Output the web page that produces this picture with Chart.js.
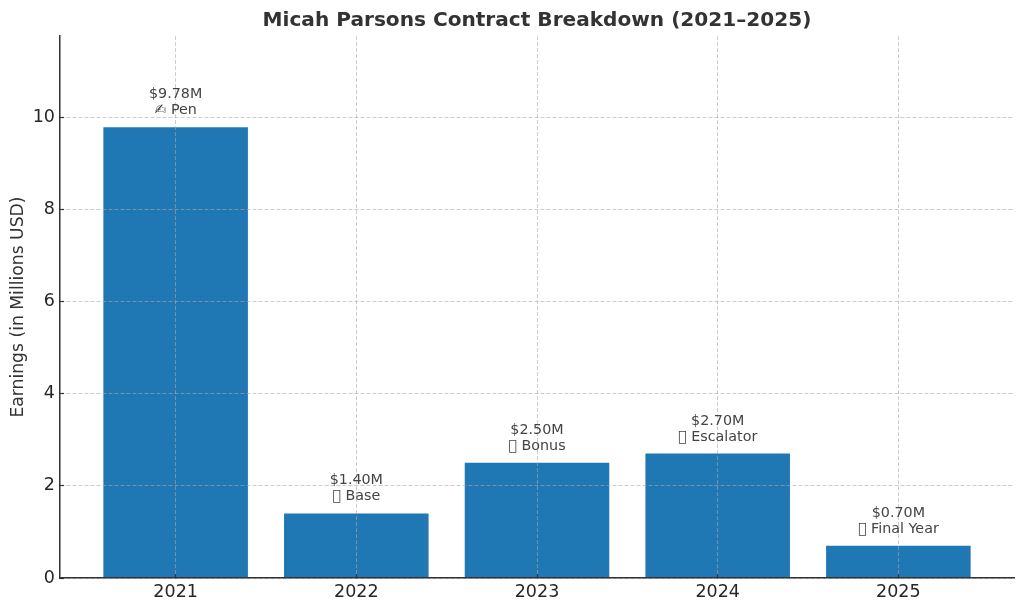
<!DOCTYPE html>
<html>
<head>
<meta charset="utf-8">
<style>html,body{margin:0;padding:0;background:#fff}canvas{display:block}</style>
<script src="https://cdn.jsdelivr.net/npm/chart.js@4"></script>
</head>
<body>
<canvas id="c" width="1024" height="611"></canvas>
<script>
const years = ["2021","2022","2023","2024","2025"];
const earnings = [9.78,1.40,2.50,2.70,0.70];
const amountLabels = ["$9.78M","$1.40M","$2.50M","$2.70M","$0.70M"];
const noteLabels = ["✍ Pen","\uE000 Base","\uE000 Bonus","\uE000 Escalator","\uE000 Final Year"];
const FONT = '"DejaVu Sans"';
const barLabels = {
  id:'barLabels',
  afterDraw(chart){
    const {ctx} = chart;
    const meta = chart.getDatasetMeta(0);
    ctx.save();
    ctx.fillStyle = '#444';
    ctx.font = '14.3px '+FONT;
    ctx.textAlign = 'center';
    ctx.textBaseline = 'alphabetic';
    meta.data.forEach((bar,i)=>{
      ctx.fillText(amountLabels[i], bar.x, bar.y-29);
      ctx.fillText(noteLabels[i], bar.x, bar.y-13);
    });
    ctx.restore();
  }
};
new Chart(document.getElementById('c'),{
  type:'bar',
  data:{datasets:[{
    data:earnings.map((v,i)=>({x:i,y:v})),
    backgroundColor:'#1f77b4',
    barPercentage:0.8,
    categoryPercentage:1
  }]},
  options:{
    responsive:false,
    animation:false,
    devicePixelRatio:1,
    layout:{padding:{left:0,right:10,top:0,bottom:0}},
    plugins:{
      legend:{display:false},
      tooltip:{enabled:false},
      title:{display:true,fullSize:false,text:'Micah Parsons Contract Breakdown (2021–2025)',color:'#333',
        font:{family:FONT,size:20.1,weight:'bold'},padding:{top:9,bottom:3}}
    },
    scales:{
      x:{
        type:'linear',offset:false,min:-0.64,max:4.64,
        afterBuildTicks(s){s.ticks=years.map((y,i)=>({value:i}));},
        afterFit(s){s.height=33;},
        grid:{offset:false,color:'rgba(170,170,170,0.6)',lineWidth:1,z:1,drawTicks:true,tickLength:-4,tickColor:'#333',tickWidth:1.2},
        border:{display:true,color:'#333',width:1.5,dash:[4,2],z:2},
        ticks:{color:'#262626',font:{family:FONT,size:17.5},autoSkip:false,maxRotation:0,padding:8,
          callback(v){return years[v];}}
      },
      y:{
        min:0,max:11.76,
        afterFit(s){s.width=60;},
        afterBuildTicks(s){s.ticks=[0,2,4,6,8,10].map(v=>({value:v}));},
        title:{display:true,text:'Earnings (in Millions USD)',color:'#333',font:{family:FONT,size:17.2},padding:{top:8,bottom:4}},
        grid:{color:'rgba(170,170,170,0.6)',lineWidth:1,z:1,drawTicks:true,tickLength:-4,tickColor:'#333',tickWidth:1.2},
        border:{display:true,color:'#333',width:1.5,dash:[4,2],z:2},
        ticks:{color:'#262626',font:{family:FONT,size:17.5},padding:9}
      }
    }
  },
  plugins:[barLabels]
});
</script>
</body>
</html>
